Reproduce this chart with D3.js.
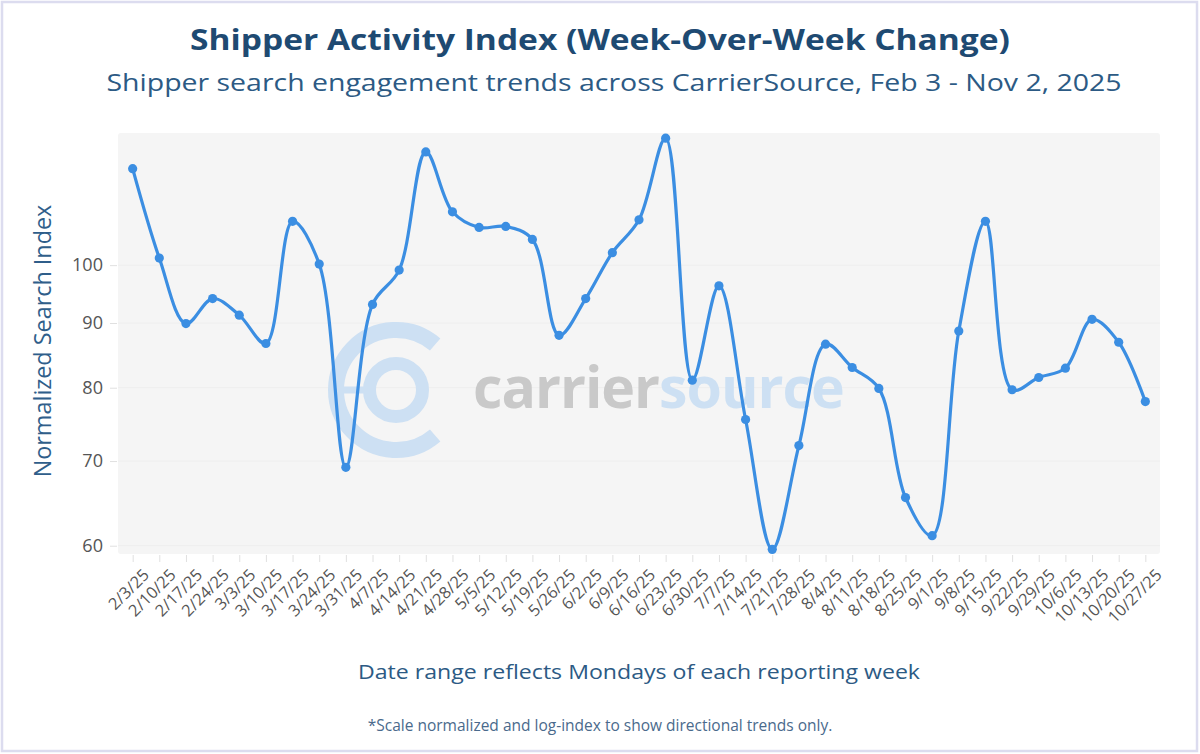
<!DOCTYPE html>
<html>
<head>
<meta charset="utf-8">
<script src="https://cdn.jsdelivr.net/npm/d3@7"></script>
<style>
  html, body { margin: 0; padding: 0; background: #fff; }
  svg { display: block; font-family: "Open Sans", Lato, sans-serif; }
</style>
</head>
<body>
<div id="chart"></div>
<script>
// week start dates (Mondays)
var weeks = ["2/3/25","2/10/25","2/17/25","2/24/25","3/3/25","3/10/25","3/17/25","3/24/25","3/31/25",
             "4/7/25","4/14/25","4/21/25","4/28/25","5/5/25","5/12/25","5/19/25","5/26/25",
             "6/2/25","6/9/25","6/16/25","6/23/25","6/30/25","7/7/25","7/14/25","7/21/25","7/28/25",
             "8/4/25","8/11/25","8/18/25","8/25/25","9/1/25","9/8/25","9/15/25","9/22/25","9/29/25",
             "10/6/25","10/13/25","10/20/25","10/27/25"];

var searchIndex = [119.2, 101.3, 89.9, 94.1, 91.3, 86.7, 108.3, 100.2, 69.2,
                   93.1, 99.1, 122.9, 110.2, 107.1, 107.3, 104.8, 88.0,
                   94.1, 102.3, 108.6, 126.0, 81.1, 96.3, 75.5, 59.6, 72.0,
                   86.6, 83.0, 79.9, 65.5, 61.1, 88.7, 108.3, 79.7, 81.5,
                   82.9, 90.6, 86.9, 78.0];

var yTicks = [60, 70, 80, 90, 100];

// scale a text's font size so it spans the given width
function fitWidth(sel, w){
    var len = sel.node().getComputedTextLength();
    var fs = +sel.attr("font-size");
    sel.attr("font-size", fs * w / len);
    return fs * w / len;
}

function init(){
    var W = 1200, H = 754;
    var plot = {left: 118, right: 1160, top: 133, bottom: 554};

    var svg = d3.select("#chart").append("svg")
        .attr("width", W).attr("height", H);

    // outer card border
    svg.append("rect")
        .attr("x", 2).attr("y", 2)
        .attr("width", W - 5).attr("height", H - 5)
        .attr("fill", "#fff")
        .attr("stroke", "#dcdcef").attr("stroke-width", 2.5);

    var data = weeks.map(function(w, i){ return {week: w, value: searchIndex[i]}; });

    var xScale = d3.scalePoint().domain(weeks)
        .range([plot.left, plot.right]).padding(0.55);
    var yScale = d3.scaleLog().domain([59.1, 127.2])
        .range([plot.bottom, plot.top]);

    // plot background
    svg.append("rect")
        .attr("x", plot.left).attr("y", plot.top)
        .attr("width", plot.right - plot.left).attr("height", plot.bottom - plot.top)
        .attr("rx", 3)
        .attr("fill", "#f5f5f5");

    // grid
    svg.append("g").selectAll("line")
        .data(yTicks).enter().append("line")
        .attr("x1", plot.left).attr("x2", plot.right)
        .attr("y1", function(d){ return yScale(d); })
        .attr("y2", function(d){ return yScale(d); })
        .attr("stroke", "#eeeeee").attr("stroke-width", 1);

    // watermark logo
    var wm = svg.append("g").attr("transform", "translate(396,390)");
    var wmBlue = "#cde0f3";
    var outerArc = d3.arc()
        .innerRadius(60).outerRadius(60)
        .startAngle(Math.PI * 0.5 + 0.86)
        .endAngle(Math.PI * 2.5 - 0.86);
    wm.append("path")
        .attr("d", outerArc())
        .attr("fill", "none").attr("stroke", wmBlue)
        .attr("stroke-width", 16).attr("stroke-linecap", "round");
    wm.append("circle").attr("r", 26.5)
        .attr("fill", "none").attr("stroke", wmBlue).attr("stroke-width", 13);
    wm.append("rect").attr("x", -62).attr("y", -3.5)
        .attr("width", 34).attr("height", 7).attr("fill", wmBlue);

    var wmText = svg.append("text")
        .attr("x", 473).attr("y", 408)
        .attr("font-family", "'Open Sans', sans-serif")
        .attr("font-weight", "bold")
        .attr("font-size", 54)
        .attr("letter-spacing", -1);
    wmText.append("tspan").attr("fill", "#c9c9c9").text("carrier");
    wmText.append("tspan").attr("fill", wmBlue).text("source");
    fitWidth(wmText, 370);

    // y axis
    var yAxis = d3.axisLeft(yScale)
        .tickValues(yTicks)
        .tickFormat(d3.format("d"))
        .tickSize(7).tickPadding(7);
    var gy = svg.append("g")
        .attr("transform", "translate(" + (plot.left - 1) + ",0)")
        .call(yAxis);
    gy.select(".domain").remove();
    gy.selectAll(".tick line").attr("stroke", "#e0e0e0");
    gy.selectAll(".tick text")
        .attr("fill", "#555").attr("font-size", 16)
        .attr("font-family", "'Open Sans', sans-serif");
    var t100 = gy.selectAll(".tick text").filter(function(d){ return d === 100; });
    var yfs = fitWidth(t100, 31);
    gy.selectAll(".tick text").attr("font-size", yfs);

    // x axis
    var xAxis = d3.axisBottom(xScale).tickSize(7).tickPadding(0);
    var gx = svg.append("g")
        .attr("transform", "translate(0," + (plot.bottom + 1) + ")")
        .call(xAxis);
    gx.select(".domain").remove();
    gx.selectAll(".tick line").attr("stroke", "#e0e0e0");
    gx.selectAll(".tick text")
        .attr("fill", "#555").attr("font-size", 14)
        .attr("font-family", "'Open Sans', sans-serif")
        .attr("text-anchor", "end")
        .attr("dy", 0)
        .attr("transform", "translate(12,16) rotate(-45)");
    var tLast = gx.selectAll(".tick text").filter(function(d){ return d === "10/27/25"; });
    var xfs = fitWidth(tLast, 68);
    gx.selectAll(".tick text").attr("font-size", xfs);

    // line + markers
    var line = d3.line()
        .x(function(d){ return xScale(d.week); })
        .y(function(d){ return yScale(d.value); })
        .curve(d3.curveCatmullRom.alpha(0.5));

    svg.append("path")
        .datum(data)
        .attr("d", line)
        .attr("fill", "none")
        .attr("stroke", "#3b8ee2")
        .attr("stroke-width", 3.2);

    svg.selectAll("circle.pt")
        .data(data).enter()
        .append("circle").attr("class", "pt")
        .attr("cx", function(d){ return xScale(d.week); })
        .attr("cy", function(d){ return yScale(d.value); })
        .attr("r", 4.6)
        .attr("fill", "#3b8ee2");

    // titles
    svg.append("text")
        .attr("x", 600).attr("y", 50)
        .attr("text-anchor", "middle")
        .attr("font-weight", "bold").attr("font-size", 29)
        .attr("textLength", 820).attr("lengthAdjust", "spacingAndGlyphs")
        .attr("fill", "#1e4a72")
        .text("Shipper Activity Index (Week-Over-Week Change)");

    svg.append("text")
        .attr("x", 614).attr("y", 91)
        .attr("text-anchor", "middle")
        .attr("font-size", 23)
        .attr("textLength", 1015).attr("lengthAdjust", "spacingAndGlyphs")
        .attr("fill", "#2c5a84")
        .text("Shipper search engagement trends across CarrierSource, Feb 3 - Nov 2, 2025");

    var ytitle = svg.append("text")
        .attr("transform", "translate(51,341) rotate(-90)")
        .attr("text-anchor", "middle")
        .attr("font-size", 18.5)
        .attr("fill", "#2f5e8a")
        .text("Normalized Search Index");
    fitWidth(ytitle, 273);

    svg.append("text")
        .attr("x", 639).attr("y", 679)
        .attr("text-anchor", "middle")
        .attr("font-size", 20.5)
        .attr("textLength", 562).attr("lengthAdjust", "spacingAndGlyphs")
        .attr("fill", "#2c5a84")
        .text("Date range reflects Mondays of each reporting week");

    var note = svg.append("text")
        .attr("x", 600).attr("y", 731)
        .attr("text-anchor", "middle")
        .attr("font-size", 13)
        .attr("fill", "#4a6a8c")
        .text("*Scale normalized and log-index to show directional trends only.");
    fitWidth(note, 465);
}
window.onload = init;
</script>
</body>
</html>
